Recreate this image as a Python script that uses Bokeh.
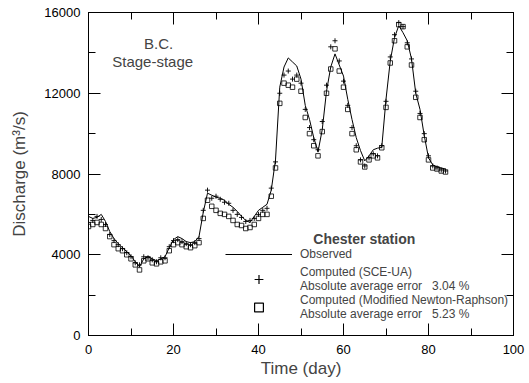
from bokeh.plotting import figure
from bokeh.models import (LinearAxis, Range1d, SingleIntervalTicker, Legend,
                          LegendItem, Label, ColumnDataSource, CustomJSTickFormatter)
from bokeh.embed import file_html
from bokeh.resources import INLINE

days = list(range(85))
observed = [5900, 5800, 5850, 6000, 5650, 5150, 4800, 4550, 4350, 4150,
            3950, 3650, 3400, 3800, 3900, 3800, 3700, 3800, 3900, 4350,
            4750, 4900, 4800, 4650, 4600, 4650, 4900, 6100, 7050, 6950,
            6850, 6800, 6700, 6500, 6350, 6150, 5900, 5700, 5600, 5900,
            6200, 6350, 6500, 7200, 8700, 12300, 13300, 13750, 13550, 13350,
            12700, 11400, 10700, 9800, 9100, 10200, 12100, 13300, 13950, 13400,
            12850, 11700, 10700, 9800, 9160, 8650, 8900, 9200, 9280, 9320,
            11700, 13600, 14750, 15350, 15000, 14600, 13700, 12000, 11200, 9900,
            8800, 8450, 8350, 8300, 8250]
sce_ua = [5600, 5700, 5900, 5750, 5500, 5000, 4700, 4500, 4300, 4100,
          3900, 3600, 3500, 3900, 3850, 3750, 3650, 3850, 3850, 4400,
          4700, 4750, 4650, 4550, 4500, 4600, 4800, 6200, 7200, 6800,
          6900, 6750, 6600, 6550, 6200, 6000, 5850, 5650, 5700, 5800,
          6000, 6200, 6300, 7300, 8600, 12000, 12900, 13100, 12700, 12900,
          12500, 11200, 10300, 9700, 9200, 10600, 12400, 14300, 14600, 13600,
          12600, 11400, 10300, 9400, 8700, 8400, 8800, 9000, 8900, 9400,
          11600, 13800, 14900, 15500, 15300, 14500, 13700, 12100, 11000, 10000,
          8900, 8400, 8300, 8200, 8150]
newton = [5400, 5500, 5600, 5500, 5300, 4900, 4500, 4300, 4200, 4000,
          3800, 3500, 3250, 3700, 3800, 3600, 3550, 3650, 3700, 4200,
          4500, 4600, 4500, 4400, 4350, 4450, 4600, 5800, 6700, 6400,
          6200, 6050, 6000, 5900, 5700, 5500, 5450, 5300, 5350, 5500,
          5800, 6000, 6000, 6900, 8300, 11500, 12500, 12400, 12300, 12700,
          12100, 10800, 10000, 9400, 8900, 10100, 12000, 13200, 14200, 13100,
          12300, 11200, 10000, 9200, 8600, 8350, 8700, 8900, 8800, 9300,
          11300, 13500, 14600, 15400, 15300, 14300, 13400, 11800, 10800, 9700,
          8700, 8300, 8250, 8150, 8100]

x_major = 20
y_major = 4000
station = "Chester station"
labels = ["Observed",
          "Computed (SCE-UA)\nAbsolute average error   3.04 %",
          "Computed (Modified Newton-Raphson)\nAbsolute average error   5.23 %"]

FONT = "Liberation Sans"
NAN = float("nan")

p = figure(width=529, height=383, x_range=Range1d(0, 100), y_range=Range1d(0, 16000),
           output_backend="svg", toolbar_location=None,
           min_border_left=88, min_border_right=16, min_border_top=12, min_border_bottom=48)
p.grid.visible = False
p.outline_line_color = "black"
p.background_fill_color = "white"
p.border_fill_color = "white"

src = ColumnDataSource(dict(day=days, obs=observed, sce=sce_ua, nr=newton))
r_obs = p.line("day", "obs", source=src, line_color="black", line_width=1)
p.scatter("day", "sce", source=src, marker="cross", size=5, line_color="black", line_width=0.9)
p.scatter("day", "nr", source=src, marker="square", size=4.5, line_color="black",
          fill_color=None, line_width=0.8)

# legend sample glyphs (no visible data)
r_sce_leg = p.scatter(x=[NAN], y=[NAN], marker="cross", size=11, line_color="black", line_width=1.2)
r_nr_leg = p.scatter(x=[NAN], y=[NAN], marker="square", size=10, line_color="black",
                     fill_color=None, line_width=1.2)

def style_axis(ax, show_labels=True):
    ax.axis_line_color = "black"
    ax.major_tick_in = 12
    ax.major_tick_out = 0
    ax.minor_tick_in = 7
    ax.minor_tick_out = 0
    ax.major_tick_line_color = "black"
    ax.minor_tick_line_color = "black"
    ax.major_label_text_font = FONT
    ax.major_label_text_color = "black"
    ax.major_label_text_font_size = "13px"
    if not show_labels:
        ax.formatter = CustomJSTickFormatter(code="return ''")
        ax.major_label_standoff = 0

xt = SingleIntervalTicker(interval=x_major, num_minor_ticks=2)
yt = SingleIntervalTicker(interval=y_major, num_minor_ticks=2)

xa = p.xaxis[0]
xa.ticker = xt
style_axis(xa)
xa.major_label_standoff = 9
xa.axis_label = "Time (day)"
xa.axis_label_text_font = FONT
xa.axis_label_text_font_size = "17px"
xa.axis_label_text_font_style = "normal"
xa.axis_label_standoff = 2

ya = p.yaxis[0]
ya.ticker = yt
style_axis(ya)
ya.major_label_standoff = 8
ya.axis_label = "Discharge (m³/s)"
ya.axis_label_text_font = FONT
ya.axis_label_text_font_size = "17px"
ya.axis_label_text_font_style = "normal"
ya.axis_label_standoff = 12

top = LinearAxis(ticker=SingleIntervalTicker(interval=x_major, num_minor_ticks=2))
style_axis(top, False)
p.add_layout(top, "above")
right = LinearAxis(ticker=SingleIntervalTicker(interval=y_major, num_minor_ticks=2))
style_axis(right, False)
p.add_layout(right, "right")

p.add_layout(Label(x=16.5, y=14450, text="B.C.", text_font=FONT, text_font_size="15px",
                   text_align="center", text_baseline="middle"))
p.add_layout(Label(x=15.1, y=13560, text="Stage-stage", text_font=FONT, text_font_size="15px",
                   text_align="center", text_baseline="middle"))
p.add_layout(Label(x=64.9, y=4800, text=station, text_font=FONT, text_font_size="14px",
                   text_font_style="bold", text_align="center", text_baseline="middle"))

legend = Legend(items=[LegendItem(label=labels[0], renderers=[r_obs]),
                       LegendItem(label=labels[1], renderers=[r_sce_leg]),
                       LegendItem(label=labels[2], renderers=[r_nr_leg])],
                location=(137, 14), padding=0, margin=0, spacing=0,
                glyph_width=67, glyph_height=22, label_height=14, label_standoff=8,
                label_text_font=FONT, label_text_font_size="12px",
                border_line_color=None, background_fill_alpha=0)
p.add_layout(legend)

open("out.html", "w").write(file_html(p, INLINE))
